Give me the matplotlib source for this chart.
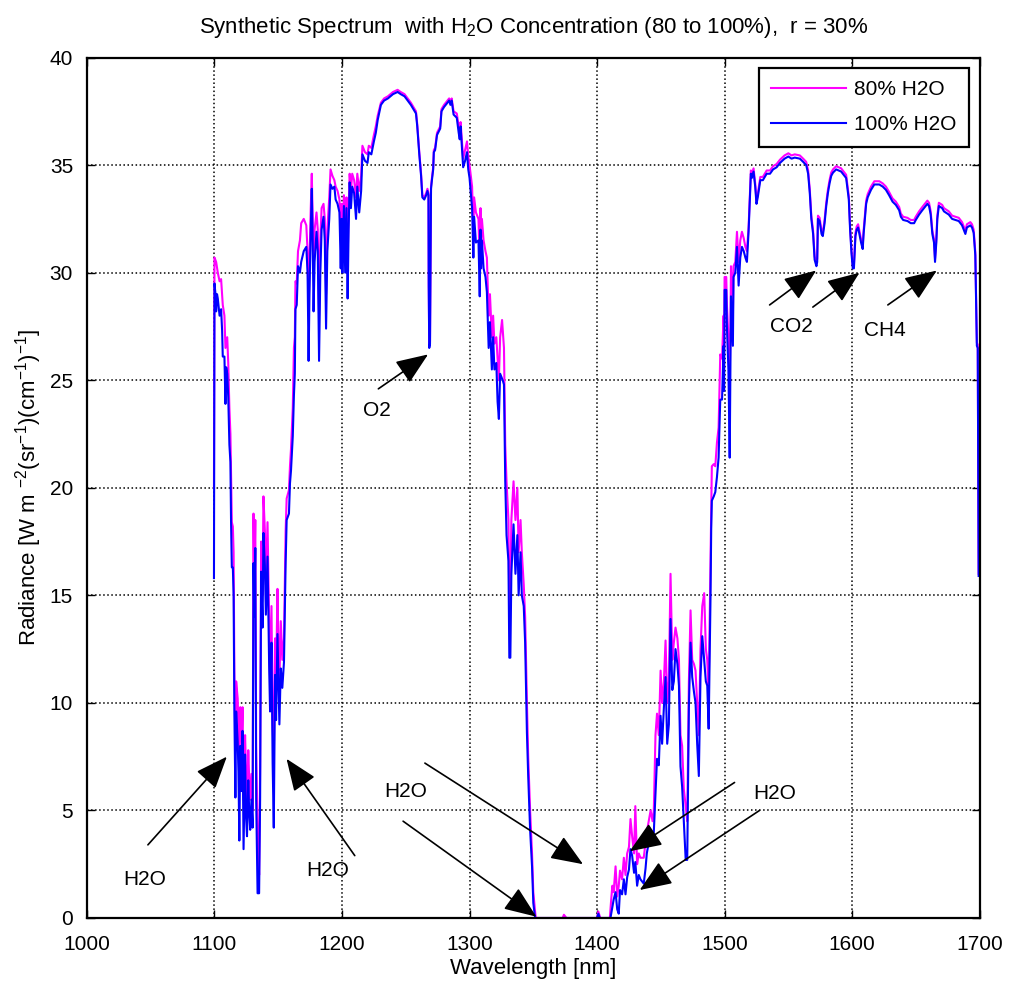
import numpy as np
import matplotlib
matplotlib.use("Agg")
import matplotlib.pyplot as plt

plt.rcParams['font.family'] = ['Liberation Sans', 'DejaVu Sans']
plt.rcParams['mathtext.fontset'] = 'custom'
plt.rcParams['mathtext.rm'] = 'Liberation Sans'
plt.rcParams['mathtext.it'] = 'Liberation Sans:italic'
plt.rcParams['mathtext.default'] = 'regular'

# ---- 100% H2O spectrum (wavelength nm, radiance)
pts_100 = [
    (1099.6, 15.8), (1100.0, 29.5), (1100.8, 29.0), (1101.3, 28.2), (1102.0, 29.0),
    (1102.6, 28.8), (1103.3, 28.4), (1104.0, 28.0), (1105.2, 28.3), (1106.0, 27.3),
    (1106.5, 26.1), (1107.8, 26.1), (1108.6, 23.9), (1109.2, 25.6), (1110.0, 25.3),
    (1110.8, 24.2), (1111.7, 22.0), (1112.5, 21.2), (1113.0, 18.4), (1113.6, 16.3),
    (1114.4, 16.3), (1115.0, 15.0), (1115.6, 9.6), (1116.4, 5.6), (1117.0, 9.6),
    (1118.2, 8.2), (1118.8, 6.8), (1119.5, 3.6), (1120.2, 8.0), (1121.3, 5.9),
    (1122.0, 8.7), (1122.8, 3.2), (1124.0, 7.6), (1124.7, 4.8), (1125.5, 3.8),
    (1126.5, 6.4), (1127.2, 5.0), (1128.0, 4.1), (1129.0, 5.5), (1129.9, 4.2),
    (1130.6, 16.5), (1131.2, 14.0), (1132.0, 17.2), (1132.7, 5.5), (1133.8, 1.15),
    (1135.0, 1.15), (1135.8, 5.6), (1136.6, 16.1), (1137.7, 13.5), (1138.4, 17.9),
    (1139.5, 16.4), (1140.3, 14.1), (1141.6, 16.8), (1142.9, 11.6), (1143.6, 9.6),
    (1144.7, 12.8), (1145.6, 7.2), (1146.5, 4.2), (1147.5, 11.3), (1148.3, 9.2),
    (1149.4, 13.2), (1150.1, 11.2), (1150.9, 9.0), (1152.0, 11.6), (1153.2, 10.7),
    (1154.5, 11.9), (1155.8, 16.5), (1156.6, 18.5), (1158.4, 18.8), (1159.2, 20.2),
    (1160.0, 20.8), (1161.4, 22.4), (1162.3, 24.3), (1163.0, 25.3), (1163.5, 28.3),
    (1164.5, 28.5), (1165.5, 30.3), (1167.0, 30.0), (1168.0, 30.5), (1170.0, 31.0),
    (1172.0, 31.2), (1173.0, 30.0), (1173.8, 25.9), (1174.5, 29.0), (1175.5, 32.0),
    (1176.3, 33.9), (1177.0, 31.5), (1177.7, 28.2), (1178.5, 30.5), (1180.0, 31.9),
    (1181.0, 31.0), (1182.0, 25.9), (1183.0, 30.0), (1184.0, 32.0), (1185.5, 32.6),
    (1186.5, 31.5), (1187.5, 27.4), (1188.5, 31.0), (1190.0, 32.5), (1191.0, 34.1),
    (1192.5, 33.9), (1194.0, 34.0), (1195.0, 33.4), (1196.5, 33.2), (1198.0, 32.8),
    (1199.0, 30.2), (1199.7, 32.5), (1200.3, 30.0), (1201.5, 33.1), (1202.5, 30.0),
    (1203.5, 33.0), (1204.4, 28.8), (1205.2, 32.0), (1206.0, 34.2), (1207.0, 33.0),
    (1208.0, 34.0), (1209.5, 33.7), (1211.0, 32.5), (1212.0, 34.0), (1213.5, 32.8),
    (1215.0, 33.8), (1216.0, 35.5), (1218.0, 35.2), (1220.0, 35.1), (1221.0, 35.6),
    (1223.0, 35.5), (1225.0, 36.1), (1226.5, 36.5), (1228.0, 37.1), (1230.5, 37.8),
    (1233.0, 38.0), (1236.0, 38.1), (1240.0, 38.3), (1243.6, 38.4), (1246.0, 38.3),
    (1249.0, 38.2), (1251.5, 38.0), (1254.0, 37.8), (1256.0, 37.6), (1258.0, 37.4),
    (1259.0, 36.8), (1260.6, 35.5), (1262.0, 34.5), (1263.0, 33.5), (1264.5, 33.4),
    (1266.0, 33.6), (1267.0, 33.8), (1267.8, 33.6), (1268.0, 29.4), (1268.4, 26.5),
    (1269.0, 26.7), (1269.3, 29.4), (1269.8, 33.9), (1270.5, 34.3), (1271.5, 34.8),
    (1272.0, 35.6), (1273.0, 35.7), (1274.5, 36.4), (1277.0, 36.7), (1278.0, 37.5),
    (1280.0, 37.7), (1282.0, 37.85), (1284.0, 38.0), (1285.0, 37.8), (1286.0, 38.0),
    (1287.5, 37.35), (1290.0, 37.2), (1291.5, 36.5), (1292.3, 36.2), (1293.0, 36.8),
    (1295.0, 34.9), (1296.5, 35.2), (1298.0, 35.6), (1299.0, 34.8), (1300.0, 34.4),
    (1302.0, 33.0), (1303.0, 30.7), (1303.6, 32.6), (1305.0, 31.4), (1307.0, 31.5),
    (1308.0, 28.9), (1308.6, 32.0), (1309.0, 30.2), (1309.7, 31.5), (1311.0, 30.2),
    (1312.5, 29.8), (1313.6, 29.1), (1315.0, 26.5), (1316.0, 27.7), (1317.5, 25.5),
    (1318.5, 27.0), (1319.5, 25.5), (1321.0, 25.8), (1322.0, 24.0), (1323.0, 23.2),
    (1324.0, 25.3), (1326.0, 25.0), (1327.0, 24.8), (1328.0, 20.3), (1329.0, 17.8),
    (1330.5, 16.6), (1331.2, 12.1), (1332.0, 12.1), (1332.8, 16.0), (1334.5, 18.3),
    (1336.0, 16.0), (1337.5, 17.8), (1338.5, 15.0), (1340.0, 17.0), (1341.0, 15.0),
    (1342.5, 14.5), (1343.6, 12.8), (1345.0, 8.6), (1346.0, 6.6), (1347.5, 4.1),
    (1349.0, 2.4), (1350.0, 0.7), (1351.4, 0.0), (1375.0, 0.0), (1400.0, 0.0),
    (1401.0, 0.2), (1402.0, 0.0), (1410.5, 0.0), (1412.0, 0.5), (1413.0, 0.85),
    (1414.5, 1.2), (1415.8, 0.4), (1417.0, 0.2), (1418.0, 1.3), (1419.6, 1.1),
    (1421.0, 1.8), (1422.3, 1.1), (1423.6, 1.9), (1425.0, 2.25), (1426.2, 3.2),
    (1427.5, 2.9), (1429.0, 2.1), (1430.0, 2.6), (1431.4, 1.5), (1432.7, 2.0),
    (1434.0, 1.8), (1436.6, 1.6), (1438.0, 2.3), (1439.0, 3.0), (1440.5, 3.5),
    (1442.0, 4.0), (1443.5, 3.6), (1444.5, 4.0), (1445.8, 5.8), (1447.0, 7.4),
    (1448.4, 7.1), (1449.8, 9.4), (1451.0, 8.1), (1452.4, 9.8), (1453.7, 11.2),
    (1455.0, 8.1), (1456.3, 9.0), (1457.6, 13.9), (1459.0, 10.6), (1460.2, 11.0),
    (1461.5, 12.5), (1463.0, 11.8), (1464.2, 10.8), (1465.4, 7.05), (1466.7, 6.1),
    (1468.0, 4.5), (1469.5, 2.7), (1470.7, 2.7), (1472.0, 9.8), (1473.3, 12.8),
    (1474.6, 11.2), (1476.0, 10.5), (1477.2, 10.0), (1478.5, 8.1), (1479.8, 6.6),
    (1481.1, 11.2), (1482.5, 13.1), (1484.0, 12.0), (1485.3, 11.0), (1486.4, 10.8),
    (1487.5, 8.8), (1489.0, 15.1), (1489.5, 18.1), (1490.0, 19.4), (1491.5, 19.6),
    (1492.7, 19.8), (1494.0, 20.5), (1495.3, 21.4), (1496.6, 24.1), (1498.0, 24.1),
    (1499.2, 26.6), (1499.6, 24.5), (1500.0, 29.2), (1501.3, 29.2), (1501.8, 27.5),
    (1503.0, 25.5), (1504.0, 21.4), (1504.6, 26.0), (1505.0, 28.9), (1506.5, 26.6),
    (1507.0, 29.8), (1508.4, 30.0), (1509.7, 31.2), (1511.0, 29.4), (1512.3, 30.7),
    (1513.6, 31.2), (1515.0, 31.0), (1516.3, 30.7), (1517.5, 30.5), (1518.8, 31.9),
    (1519.6, 33.1), (1520.6, 34.6), (1521.3, 34.4), (1522.7, 34.7), (1524.0, 34.0),
    (1525.0, 33.2), (1526.0, 33.5), (1528.0, 34.3), (1530.0, 34.3), (1533.0, 34.6),
    (1535.6, 34.6), (1538.0, 34.8), (1540.8, 34.9), (1543.4, 35.1), (1547.0, 35.3),
    (1550.0, 35.4), (1552.5, 35.3), (1555.0, 35.35), (1559.0, 35.3), (1561.6, 35.15),
    (1564.0, 35.0), (1565.5, 34.6), (1566.8, 33.7), (1568.0, 32.5), (1569.4, 31.8),
    (1570.6, 30.6), (1572.0, 30.3), (1572.6, 30.5), (1573.2, 32.5), (1574.5, 32.4),
    (1576.0, 31.8), (1577.0, 31.7), (1578.4, 32.3), (1579.7, 33.1), (1581.0, 33.7),
    (1582.3, 34.15), (1583.6, 34.5), (1585.0, 34.65), (1587.5, 34.8), (1591.4, 34.7),
    (1594.0, 34.5), (1595.3, 34.4), (1597.4, 33.4), (1598.4, 32.0), (1599.5, 30.9),
    (1600.5, 30.2), (1601.4, 30.2), (1602.6, 31.7), (1603.6, 32.0), (1604.7, 32.1),
    (1605.7, 31.8), (1607.0, 31.4), (1608.3, 31.1), (1609.0, 31.8), (1611.0, 33.2),
    (1612.2, 33.5), (1614.8, 33.85), (1617.4, 34.1), (1621.3, 34.1), (1624.0, 34.0),
    (1626.5, 33.85), (1629.0, 33.6), (1631.7, 33.3), (1634.3, 33.15), (1636.9, 32.9),
    (1638.2, 32.6), (1640.0, 32.45), (1643.4, 32.4), (1646.0, 32.3), (1648.6, 32.3),
    (1649.9, 32.45), (1652.5, 32.7), (1655.0, 32.9), (1657.7, 33.1), (1659.0, 33.2),
    (1660.3, 33.1), (1661.6, 32.7), (1662.9, 31.8), (1664.2, 31.4), (1665.0, 30.5),
    (1666.0, 31.4), (1666.8, 32.5), (1668.0, 33.1), (1670.6, 33.0), (1672.0, 32.85),
    (1674.5, 32.75), (1675.8, 32.7), (1678.4, 32.5), (1681.0, 32.45), (1683.6, 32.4),
    (1686.2, 32.2), (1688.8, 31.8), (1690.0, 32.1), (1692.7, 32.2), (1694.0, 32.1),
    (1695.3, 31.85), (1696.6, 30.8), (1697.4, 27.8), (1697.8, 26.6), (1698.5, 26.5),
    (1699.2, 15.9),
]

# ---- 80% H2O spectrum
pts_80 = [
    (1099.6, 20.0), (1100.0, 30.7), (1101.3, 30.5), (1102.6, 30.0), (1104.0, 29.6),
    (1105.2, 29.7), (1106.5, 28.5), (1107.8, 28.0), (1108.6, 26.5), (1110.0, 27.0),
    (1110.8, 25.8), (1111.7, 23.7), (1112.5, 22.5), (1113.0, 20.5), (1113.6, 18.4),
    (1114.4, 18.2), (1115.0, 17.0), (1115.6, 11.4), (1116.4, 8.0), (1117.0, 11.0),
    (1118.2, 10.2), (1118.8, 8.8), (1119.5, 6.0), (1120.2, 9.8), (1121.3, 8.2),
    (1122.0, 9.8), (1122.8, 5.5), (1124.0, 8.5), (1124.7, 6.8), (1125.5, 5.2),
    (1126.5, 7.8), (1127.2, 6.5), (1128.0, 5.5), (1129.0, 6.7), (1129.9, 5.0),
    (1130.6, 18.8), (1131.2, 15.5), (1132.0, 18.5), (1132.7, 8.0), (1133.8, 4.0),
    (1135.0, 2.0), (1135.8, 7.0), (1136.6, 17.5), (1137.7, 15.0), (1138.4, 19.6),
    (1139.5, 18.0), (1140.3, 15.5), (1141.6, 18.4), (1142.9, 13.5), (1143.6, 11.0),
    (1144.7, 14.5), (1145.6, 9.0), (1146.5, 7.2), (1147.5, 13.0), (1148.3, 11.0),
    (1149.4, 15.3), (1150.1, 12.8), (1150.9, 11.0), (1152.0, 13.8), (1153.2, 12.0),
    (1154.5, 13.0), (1155.8, 18.0), (1156.6, 19.5), (1158.4, 19.9), (1159.2, 21.0),
    (1160.0, 21.8), (1161.4, 23.7), (1162.3, 26.5), (1163.0, 27.0), (1163.5, 29.6),
    (1164.5, 29.5), (1165.5, 31.0), (1167.0, 31.5), (1168.0, 32.3), (1170.0, 32.5),
    (1172.0, 32.2), (1173.0, 31.0), (1173.8, 28.0), (1174.5, 30.5), (1175.5, 33.0),
    (1176.3, 34.6), (1177.0, 32.5), (1177.7, 30.0), (1178.5, 32.0), (1180.0, 32.8),
    (1181.0, 32.0), (1182.0, 28.0), (1183.0, 31.5), (1184.0, 33.0), (1185.5, 33.2),
    (1186.5, 32.5), (1187.5, 29.0), (1188.5, 32.0), (1190.0, 33.5), (1191.0, 34.8),
    (1192.5, 34.5), (1194.0, 34.3), (1195.0, 34.0), (1196.5, 33.8), (1198.0, 33.4),
    (1199.0, 31.5), (1199.7, 33.2), (1200.3, 31.5), (1201.5, 33.6), (1202.5, 31.5),
    (1203.5, 33.5), (1204.4, 30.5), (1205.2, 33.0), (1206.0, 34.6), (1207.0, 33.8),
    (1208.0, 34.6), (1209.5, 34.3), (1211.0, 33.5), (1212.0, 34.6), (1213.5, 33.8),
    (1215.0, 34.5), (1216.0, 35.9), (1218.0, 35.6), (1220.0, 35.5), (1221.0, 35.9),
    (1223.0, 35.8), (1225.0, 36.4), (1226.5, 36.8), (1228.0, 37.3), (1230.5, 37.9),
    (1233.0, 38.1), (1236.0, 38.2), (1240.0, 38.4), (1243.6, 38.5), (1246.0, 38.4),
    (1249.0, 38.3), (1251.5, 38.1), (1254.0, 37.9), (1256.0, 37.7), (1258.0, 37.5),
    (1259.0, 36.9), (1260.6, 35.6), (1262.0, 34.6), (1263.0, 33.6), (1264.5, 33.5),
    (1266.0, 33.7), (1267.0, 33.9), (1267.8, 33.7), (1268.0, 29.5), (1268.4, 26.6),
    (1269.0, 26.8), (1269.3, 29.5), (1269.8, 34.0), (1270.5, 34.4), (1271.5, 34.9),
    (1272.0, 35.7), (1273.0, 35.8), (1274.5, 36.5), (1277.0, 36.8), (1278.0, 37.6),
    (1280.0, 37.8), (1282.0, 37.95), (1284.0, 38.1), (1285.0, 37.9), (1286.0, 38.1),
    (1287.5, 37.5), (1290.0, 37.4), (1291.5, 36.8), (1292.3, 36.6), (1293.0, 37.0),
    (1295.0, 35.3), (1296.5, 35.7), (1298.0, 36.1), (1299.0, 35.4), (1300.0, 35.0),
    (1302.0, 34.0), (1303.0, 32.0), (1303.6, 33.5), (1305.0, 32.8), (1307.0, 32.5),
    (1308.0, 30.5), (1308.6, 33.0), (1309.0, 31.5), (1309.7, 32.5), (1311.0, 31.5),
    (1312.5, 31.0), (1313.6, 30.7), (1315.0, 28.0), (1316.0, 29.0), (1317.5, 27.0),
    (1318.5, 28.0), (1319.5, 26.7), (1321.0, 27.0), (1322.0, 26.0), (1323.0, 25.0),
    (1324.0, 27.0), (1325.5, 27.8), (1327.0, 26.5), (1328.0, 22.0), (1329.0, 20.3),
    (1330.5, 18.5), (1331.2, 14.5), (1332.0, 15.0), (1332.8, 18.5), (1334.5, 20.3),
    (1336.0, 18.5), (1337.5, 20.0), (1338.5, 17.0), (1340.0, 18.5), (1341.0, 17.0),
    (1342.5, 15.5), (1343.6, 14.0), (1345.0, 10.0), (1346.0, 7.5), (1347.5, 5.0),
    (1349.0, 3.0), (1350.0, 1.2), (1351.4, 0.3), (1352.0, 0.0), (1373.0, 0.0),
    (1374.0, 0.15), (1376.0, 0.0), (1400.0, 0.0), (1401.0, 0.3), (1402.5, 0.0),
    (1410.0, 0.0), (1411.0, 0.8), (1412.0, 1.5), (1413.0, 1.2), (1414.5, 2.4),
    (1415.8, 1.0), (1417.0, 1.5), (1418.0, 2.2), (1419.6, 1.8), (1421.0, 2.8),
    (1422.3, 2.0), (1423.6, 3.0), (1425.0, 3.3), (1426.2, 4.6), (1427.5, 3.8),
    (1429.0, 3.0), (1430.0, 5.2), (1431.4, 2.5), (1432.7, 3.0), (1434.0, 2.8),
    (1436.6, 2.8), (1438.0, 3.5), (1439.0, 4.0), (1440.5, 4.5), (1442.0, 5.0),
    (1443.5, 4.5), (1444.5, 5.0), (1445.8, 8.5), (1447.0, 9.5), (1448.4, 8.5),
    (1449.8, 11.5), (1451.0, 10.0), (1452.4, 11.0), (1453.7, 12.9), (1455.0, 10.0),
    (1456.3, 11.0), (1457.6, 16.0), (1459.0, 12.0), (1460.2, 12.8), (1461.5, 13.5),
    (1463.0, 13.0), (1464.2, 12.0), (1465.4, 8.5), (1466.7, 8.0), (1468.0, 6.0),
    (1469.5, 5.2), (1470.7, 4.5), (1472.0, 11.0), (1473.3, 14.3), (1474.6, 12.0),
    (1476.0, 11.8), (1477.2, 11.5), (1478.5, 10.0), (1479.8, 8.5), (1481.1, 12.5),
    (1482.5, 14.5), (1484.0, 15.1), (1485.3, 12.5), (1486.4, 12.0), (1487.5, 10.5),
    (1489.0, 17.0), (1489.5, 19.5), (1490.0, 21.0), (1491.5, 21.1), (1492.7, 21.0),
    (1494.0, 22.1), (1495.3, 22.8), (1496.6, 26.2), (1498.0, 26.0), (1499.2, 28.0),
    (1499.6, 26.5), (1500.0, 29.8), (1501.3, 29.8), (1501.8, 28.5), (1503.0, 27.0),
    (1504.0, 25.0), (1504.6, 27.5), (1505.0, 30.3), (1506.5, 28.0), (1507.0, 30.3),
    (1508.4, 30.5), (1509.7, 31.9), (1511.0, 30.5), (1512.3, 31.5), (1513.6, 31.9),
    (1515.0, 31.6), (1516.3, 31.2), (1517.5, 31.0), (1518.8, 32.1), (1519.6, 33.3),
    (1520.6, 34.75), (1521.3, 34.55), (1522.7, 34.85), (1524.0, 34.15), (1525.0, 33.35),
    (1526.0, 33.65), (1528.0, 34.45), (1530.0, 34.45), (1533.0, 34.75), (1535.6, 34.75),
    (1538.0, 34.95), (1540.8, 35.05), (1543.4, 35.25), (1547.0, 35.45), (1550.0, 35.55),
    (1552.5, 35.45), (1555.0, 35.5), (1559.0, 35.45), (1561.6, 35.3), (1564.0, 35.15),
    (1565.5, 34.75), (1566.8, 33.85), (1568.0, 32.65), (1569.4, 31.95), (1570.6, 30.75),
    (1572.0, 30.45), (1572.6, 30.65), (1573.2, 32.65), (1574.5, 32.55), (1576.0, 31.95),
    (1577.0, 31.85), (1578.4, 32.45), (1579.7, 33.25), (1581.0, 33.85), (1582.3, 34.3),
    (1583.6, 34.65), (1585.0, 34.8), (1587.5, 34.95), (1591.4, 34.85), (1594.0, 34.65),
    (1595.3, 34.55), (1597.4, 33.55), (1598.4, 32.15), (1599.5, 31.05), (1600.5, 30.35),
    (1601.4, 30.35), (1602.6, 31.85), (1603.6, 32.15), (1604.7, 32.25), (1605.7, 31.95),
    (1607.0, 31.55), (1608.3, 31.25), (1609.0, 31.95), (1611.0, 33.35), (1612.2, 33.65),
    (1614.8, 34.0), (1617.4, 34.25), (1621.3, 34.25), (1624.0, 34.15), (1626.5, 34.0),
    (1629.0, 33.75), (1631.7, 33.45), (1634.3, 33.3), (1636.9, 33.05), (1638.2, 32.75),
    (1640.0, 32.6), (1643.4, 32.55), (1646.0, 32.45), (1648.6, 32.45), (1649.9, 32.6),
    (1652.5, 32.85), (1655.0, 33.05), (1657.7, 33.25), (1659.0, 33.35), (1660.3, 33.25),
    (1661.6, 32.85), (1662.9, 31.95), (1664.2, 31.55), (1665.0, 30.65), (1666.0, 31.55),
    (1666.8, 32.65), (1668.0, 33.25), (1670.6, 33.15), (1672.0, 33.0), (1674.5, 32.9),
    (1675.8, 32.85), (1678.4, 32.65), (1681.0, 32.6), (1683.6, 32.55), (1686.2, 32.35),
    (1688.8, 31.95), (1690.0, 32.25), (1692.7, 32.35), (1694.0, 32.25), (1695.3, 32.0),
    (1696.6, 30.95), (1697.4, 27.95), (1697.8, 26.75), (1698.5, 26.65), (1699.2, 16.0),
]

wl_100, rad_100 = zip(*pts_100)
wl_80, rad_80 = zip(*pts_80)

x_ticks = [1000, 1100, 1200, 1300, 1400, 1500, 1600, 1700]
y_ticks = [0, 5, 10, 15, 20, 25, 30, 35, 40]

# annotations: (label, text pos, [(tail, tip), ...])
notes = [
    ("O2", (1227, 23.6), [((1228.5, 24.6), (1267.5, 26.2))]),
    ("CO2", (1552, 27.5), [((1535.3, 28.5), (1571.8, 30.1)),
                           ((1569.2, 28.4), (1605.8, 30.0))]),
    ("CH4", (1625.5, 27.3), [((1628.0, 28.5), (1666.4, 30.1))]),
    ("H2O", (1045.5, 1.8), [((1047.8, 3.4), (1109.7, 7.5))]),
    ("H2O", (1189.0, 2.2), [((1210.0, 2.9), (1156.5, 7.4))]),
    ("H2O", (1250.0, 5.9), [((1265.0, 7.2), (1389.0, 2.5)),
                            ((1247.9, 4.5), (1352.4, 0.06))]),
    ("H2O", (1539.0, 5.8), [((1507.8, 6.3), (1425.5, 3.1)),
                            ((1527.4, 5.0), (1433.4, 1.3))]),
]

fig = plt.figure(figsize=(10.11, 9.89), dpi=100)
ax = fig.add_axes([0.086, 0.0718, 0.883, 0.870])

ax.plot(wl_80, rad_80, color='#FF00FF', lw=1.5, label='80% H2O')
ax.plot(wl_100, rad_100, color='#0000FF', lw=1.5, label='100% H2O')

for label, tpos, arrows in notes:
    ax.text(tpos[0], tpos[1], label, fontsize=15, ha='center', va='center')
    for tail, tip in arrows:
        ax.annotate('', xy=tip, xytext=tail,
                    arrowprops=dict(arrowstyle='-|>,head_length=1.0,head_width=0.4',
                                    color='black', lw=1.2, mutation_scale=20,
                                    shrinkA=0, shrinkB=0))

ax.set_xlim(1000, 1700)
ax.set_ylim(0, 40)
ax.set_xticks(x_ticks)
ax.set_yticks(y_ticks)
ax.tick_params(direction='in', top=True, right=True, length=6, width=1,
               labelsize=15)
ax.tick_params(axis='x', pad=12)
ax.tick_params(axis='y', pad=10)
ax.grid(True, color='black', linestyle=':', linewidth=1.1)
for s in ax.spines.values():
    s.set_linewidth(1.6)

ax.set_xlabel('Wavelength [nm]', fontsize=16, labelpad=3)
ax.set_ylabel('Radiance [W m $^{-2}$(sr$^{-1}$)(cm$^{-1}$)$^{-1}$]', fontsize=16, labelpad=4)
ax.set_title('Synthetic Spectrum  with H$_2$O Concentration (80 to 100%),  r = 30%',
             fontsize=16, pad=18)

leg = ax.legend(loc='upper right', fontsize=15, fancybox=False, framealpha=1,
                edgecolor='black', handlelength=3.6, handletextpad=0.4,
                borderaxespad=0.5, labelspacing=0.75, borderpad=0.6)
leg.get_frame().set_linewidth(1.6)

fig.savefig('out.png', dpi=100)
